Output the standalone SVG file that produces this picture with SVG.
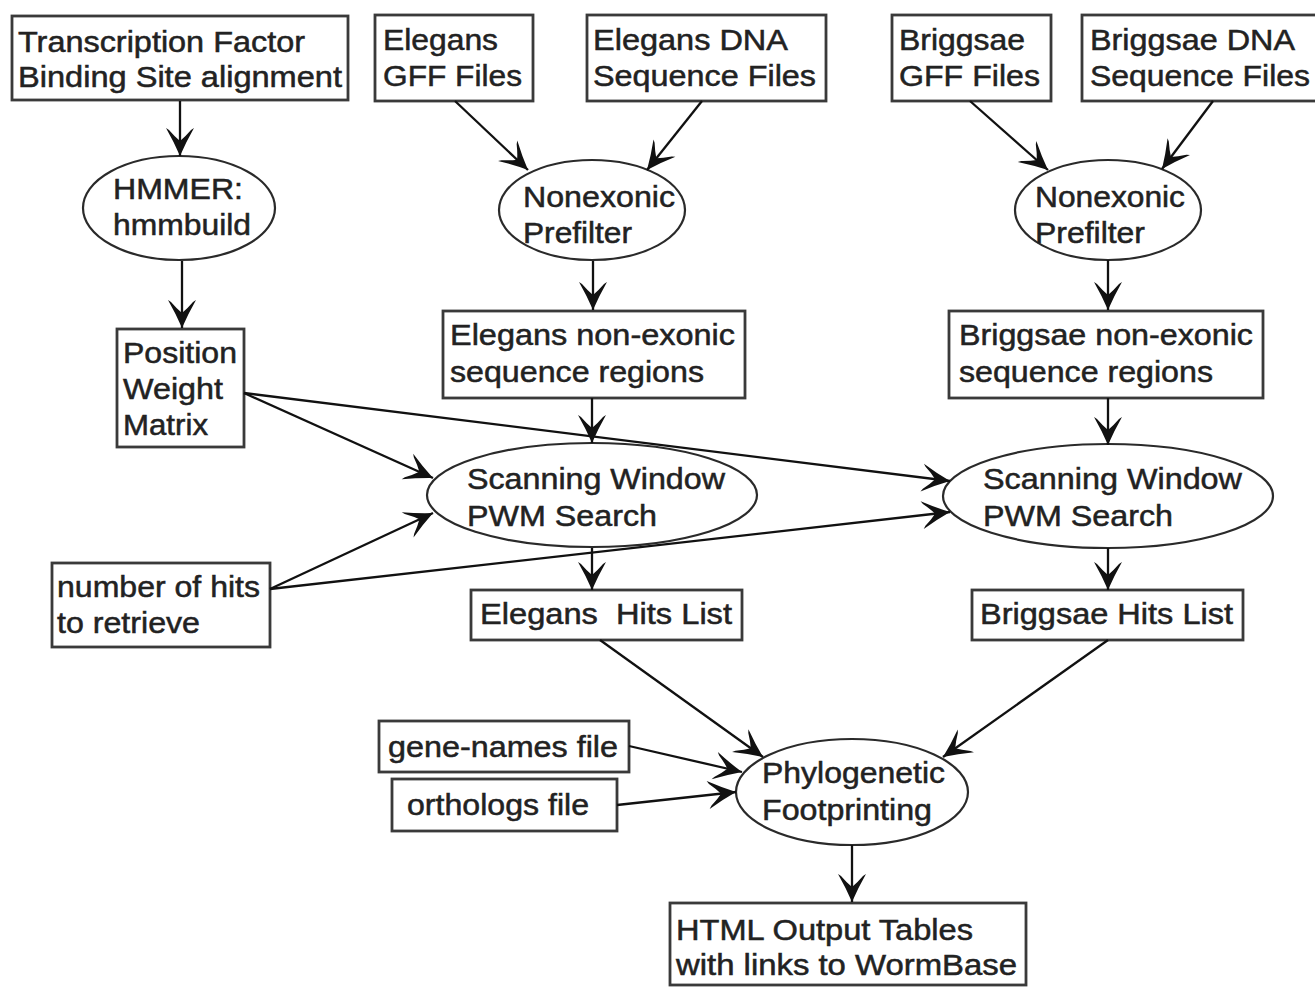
<svg xmlns="http://www.w3.org/2000/svg" width="1315" height="987" viewBox="0 0 1315 987">
<defs>
<style>
.box{fill:#fff;stroke:#3a3a3a;stroke-width:2.8}
.ell{fill:#fff;stroke:#2a2a2a;stroke-width:2.2}
.t{font-family:"Liberation Sans",Arial,sans-serif;font-size:29px;fill:#222;stroke:#222;stroke-width:0.5}
.edge{stroke:#111;stroke-width:2.3;fill:none;marker-end:url(#arr)}
</style>
<marker id="arr" markerUnits="userSpaceOnUse" viewBox="-30 -16 31 32" markerWidth="31" markerHeight="32" refX="0" refY="0" orient="auto">
<path d="M0,0 Q-14,-6 -28,-14 L-26,-11 Q-19,-5 -15,0 Q-19,5 -26,11 L-28,14 Q-14,6 0,0 Z" fill="#111"/>
</marker>
</defs>
<rect width="1315" height="987" fill="#fff"/>
<g id="nodes">
<g id="tfbs"><rect class="box" x="12" y="16" width="336" height="84"/>
<text class="t" x="18" y="52" textLength="287" lengthAdjust="spacingAndGlyphs">Transcription Factor</text>
<text class="t" x="18" y="87" textLength="324" lengthAdjust="spacingAndGlyphs">Binding Site alignment</text></g>
<g id="elegans-gff"><rect class="box" x="375" y="15" width="158" height="86"/>
<text class="t" x="383" y="50" textLength="115" lengthAdjust="spacingAndGlyphs">Elegans</text>
<text class="t" x="383" y="86" textLength="139" lengthAdjust="spacingAndGlyphs">GFF Files</text></g>
<g id="elegans-dna"><rect class="box" x="587" y="15" width="239" height="86"/>
<text class="t" x="593" y="50" textLength="195" lengthAdjust="spacingAndGlyphs">Elegans DNA</text>
<text class="t" x="593" y="86" textLength="223" lengthAdjust="spacingAndGlyphs">Sequence Files</text></g>
<g id="briggsae-gff"><rect class="box" x="892" y="15" width="159" height="86"/>
<text class="t" x="899" y="50" textLength="126" lengthAdjust="spacingAndGlyphs">Briggsae</text>
<text class="t" x="899" y="86" textLength="141" lengthAdjust="spacingAndGlyphs">GFF Files</text></g>
<g id="briggsae-dna"><rect class="box" x="1082" y="15" width="240" height="86"/>
<text class="t" x="1090" y="50" textLength="205" lengthAdjust="spacingAndGlyphs">Briggsae DNA</text>
<text class="t" x="1090" y="86" textLength="220" lengthAdjust="spacingAndGlyphs">Sequence Files</text></g>
<g id="hmmer"><ellipse class="ell" cx="179" cy="208" rx="96" ry="52"/>
<text class="t" x="113" y="199" textLength="130" lengthAdjust="spacingAndGlyphs">HMMER:</text>
<text class="t" x="113" y="235" textLength="138" lengthAdjust="spacingAndGlyphs">hmmbuild</text></g>
<g id="prefilter-elegans"><ellipse class="ell" cx="592" cy="210" rx="93" ry="50"/>
<text class="t" x="523" y="207" textLength="152" lengthAdjust="spacingAndGlyphs">Nonexonic</text>
<text class="t" x="523" y="243" textLength="109" lengthAdjust="spacingAndGlyphs">Prefilter</text></g>
<g id="prefilter-briggsae"><ellipse class="ell" cx="1108" cy="210" rx="93" ry="50"/>
<text class="t" x="1035" y="207" textLength="150" lengthAdjust="spacingAndGlyphs">Nonexonic</text>
<text class="t" x="1035" y="243" textLength="110" lengthAdjust="spacingAndGlyphs">Prefilter</text></g>
<g id="pwm"><rect class="box" x="117" y="329" width="127" height="118"/>
<text class="t" x="123" y="363" textLength="114" lengthAdjust="spacingAndGlyphs">Position</text>
<text class="t" x="123" y="399" textLength="100" lengthAdjust="spacingAndGlyphs">Weight</text>
<text class="t" x="123" y="435" textLength="85" lengthAdjust="spacingAndGlyphs">Matrix</text></g>
<g id="elegans-regions"><rect class="box" x="443" y="311" width="302" height="87"/>
<text class="t" x="450" y="345" textLength="285" lengthAdjust="spacingAndGlyphs">Elegans non-exonic</text>
<text class="t" x="450" y="382" textLength="254" lengthAdjust="spacingAndGlyphs">sequence regions</text></g>
<g id="briggsae-regions"><rect class="box" x="949" y="311" width="314" height="87"/>
<text class="t" x="959" y="345" textLength="294" lengthAdjust="spacingAndGlyphs">Briggsae non-exonic</text>
<text class="t" x="959" y="382" textLength="254" lengthAdjust="spacingAndGlyphs">sequence regions</text></g>
<g id="scan-elegans"><ellipse class="ell" cx="592" cy="495" rx="165" ry="52"/>
<text class="t" x="467" y="489" textLength="258" lengthAdjust="spacingAndGlyphs">Scanning Window</text>
<text class="t" x="467" y="526" textLength="190" lengthAdjust="spacingAndGlyphs">PWM Search</text></g>
<g id="scan-briggsae"><ellipse class="ell" cx="1108" cy="496" rx="165" ry="52"/>
<text class="t" x="983" y="489" textLength="259" lengthAdjust="spacingAndGlyphs">Scanning Window</text>
<text class="t" x="983" y="526" textLength="190" lengthAdjust="spacingAndGlyphs">PWM Search</text></g>
<g id="num-hits"><rect class="box" x="52" y="563" width="218" height="84"/>
<text class="t" x="57" y="597" textLength="203" lengthAdjust="spacingAndGlyphs">number of hits</text>
<text class="t" x="57" y="633" textLength="143" lengthAdjust="spacingAndGlyphs">to retrieve</text></g>
<g id="elegans-hits"><rect class="box" x="471" y="590" width="271" height="50"/>
<text class="t" x="480" y="624" textLength="252" lengthAdjust="spacingAndGlyphs" style="white-space:pre">Elegans  Hits List</text></g>
<g id="briggsae-hits"><rect class="box" x="972" y="590" width="271" height="50"/>
<text class="t" x="980" y="624" textLength="253" lengthAdjust="spacingAndGlyphs">Briggsae Hits List</text></g>
<g id="gene-names"><rect class="box" x="379" y="721" width="250" height="51"/>
<text class="t" x="388" y="757" textLength="230" lengthAdjust="spacingAndGlyphs">gene-names file</text></g>
<g id="orthologs"><rect class="box" x="392" y="779" width="225" height="52"/>
<text class="t" x="407" y="815" textLength="182" lengthAdjust="spacingAndGlyphs">orthologs file</text></g>
<g id="phylo"><ellipse class="ell" cx="852" cy="792" rx="116" ry="53"/>
<text class="t" x="762" y="783" textLength="183" lengthAdjust="spacingAndGlyphs">Phylogenetic</text>
<text class="t" x="762" y="820" textLength="170" lengthAdjust="spacingAndGlyphs">Footprinting</text></g>
<g id="html"><rect class="box" x="670" y="903" width="356" height="82"/>
<text class="t" x="676" y="940" textLength="297" lengthAdjust="spacingAndGlyphs">HTML Output Tables</text>
<text class="t" x="676" y="975" textLength="341" lengthAdjust="spacingAndGlyphs">with links to WormBase</text></g>
</g>
<g id="connectors">
<line class="edge" x1="180" y1="101" x2="180" y2="156"/>
<line class="edge" x1="182" y1="261" x2="182" y2="328"/>
<line class="edge" x1="455" y1="101" x2="528" y2="170"/>
<line class="edge" x1="702" y1="101" x2="647" y2="170"/>
<line class="edge" x1="593" y1="261" x2="593" y2="310"/>
<line class="edge" x1="592" y1="398" x2="592" y2="443"/>
<line class="edge" x1="244" y1="393" x2="433" y2="478"/>
<line class="edge" x1="244" y1="393" x2="950" y2="481"/>
<line class="edge" x1="270" y1="589" x2="433" y2="513"/>
<line class="edge" x1="270" y1="589" x2="950" y2="512"/>
<line class="edge" x1="592" y1="548" x2="592" y2="590"/>
<line class="edge" x1="970" y1="101" x2="1048" y2="170"/>
<line class="edge" x1="1213" y1="101" x2="1162" y2="169"/>
<line class="edge" x1="1108" y1="260" x2="1108" y2="310"/>
<line class="edge" x1="1108" y1="398" x2="1108" y2="445"/>
<line class="edge" x1="1108" y1="548" x2="1108" y2="590"/>
<line class="edge" x1="600" y1="640" x2="763" y2="757"/>
<line class="edge" x1="1108" y1="640" x2="943" y2="757"/>
<line class="edge" x1="629" y1="746" x2="742" y2="772"/>
<line class="edge" x1="617" y1="805" x2="736" y2="792"/>
<line class="edge" x1="852" y1="845" x2="852" y2="902"/>
</g>
</svg>
